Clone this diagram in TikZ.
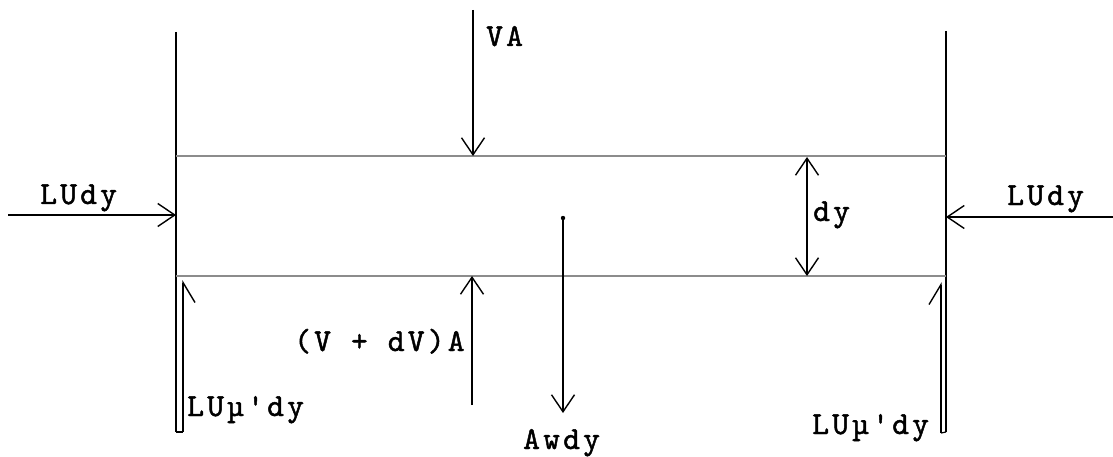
\documentclass[tikz,border=0pt]{standalone}
\usepackage{fontspec}
\newfontfamily\tw{lmmono10-regular.otf}[LetterSpace=10,FakeBold=1.4]
\usetikzlibrary{arrows.meta}
\begin{document}
\begin{tikzpicture}[x=1pt,y=-1pt,
  wall/.style={line width=1.6pt},
  rulefine/.style={line width=1.3pt, black!45},
  barb/.tip={Straight Barb[length=17pt,width=23pt,line width=1.4pt]},
  force/.style={line width=1.3pt, -barb},
  harpR/.style={line width=1.3pt, -{Straight Barb[right,length=20pt,width=24pt,line width=1.4pt]}},
  harpL/.style={line width=1.3pt, -{Straight Barb[left,length=20pt,width=24pt,line width=1.4pt]}},
  lbl/.style={font=\tw\fontsize{32}{34}\selectfont, inner sep=0pt}]
\path[use as bounding box] (0,0) rectangle (1113,457);

% walls
\coordinate (LT) at (176,32);  \coordinate (LB) at (176,432);
\coordinate (RT) at (946,31);  \coordinate (RB) at (946,432);
\draw[wall] (LT) -- (LB);
\draw[wall] (RT) -- (RB);

% element boundaries
\coordinate (TL) at (176,156); \coordinate (TR) at (946,156);
\coordinate (BL) at (176,276); \coordinate (BR) at (946,276);
\draw[rulefine] (TL) -- (TR);
\draw[rulefine] (BL) -- (BR);

% VA
\coordinate (vaS) at (473,10); \coordinate (vaE) at (473,156);
\draw[force] (vaS) -- (vaE);
\node[lbl, anchor=base west] (va) at (486,46) {VA};

% LUdy left and right
\coordinate (luLS) at (8,215); \coordinate (luLE) at (176,215);
\draw[force] (luLS) -- (luLE);
\node[lbl, anchor=base west] (lul) at (40,204) {LUdy};
\coordinate (luRS) at (1113,217); \coordinate (luRE) at (946,217);
\draw[force] (luRS) -- (luRE);
\node[lbl, anchor=base west] (lur) at (1007,205) {LUdy};

% dy
\coordinate (dyT) at (807,157); \coordinate (dyB) at (807,276);
\draw[line width=1.3pt, barb-barb] (dyT) -- (dyB);
\node[lbl, anchor=base west] (dy) at (813,221) {dy};

% (V+dV)A
\coordinate (vbS) at (472,405); \coordinate (vbE) at (472,276);
\draw[force] (vbS) -- (vbE);
\node[lbl, anchor=base west] (vda) at (294,351) {(V + dV)A};

% Awdy
\coordinate (awS) at (563,218); \coordinate (awE) at (563,413);
\fill (awS) circle (2.2);
\draw[force] (awS) -- (awE);
\node[lbl, anchor=base west] (aw) at (523,449) {Awdy};

% shear LU mu' dy
\coordinate (smLS) at (183,432); \coordinate (smLE) at (183,280);
\draw[harpR] (smLS) -- (smLE);
\draw[line width=1.2pt] (LB) -- (smLS);
\node[lbl, anchor=base west] (sml) at (187,416) {LUµ'dy};
\coordinate (smRS) at (941,433); \coordinate (smRE) at (941,282);
\draw[harpL] (smRS) -- (smRE);
\draw[line width=1.2pt] (RB) -- (smRS);
\node[lbl, anchor=base west] (smr) at (812,434) {LUµ'dy};
\end{tikzpicture}
\end{document}
